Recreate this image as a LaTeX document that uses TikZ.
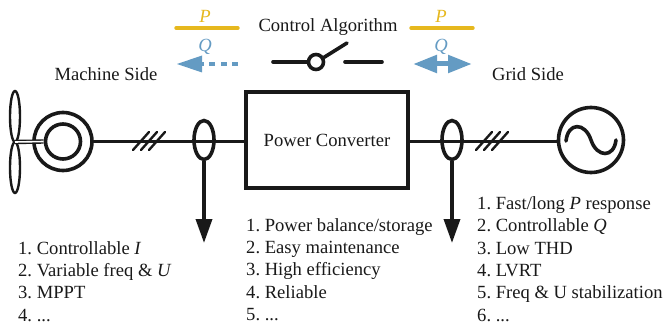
\documentclass[tikz,border=0pt]{standalone}
\usepackage{fontspec}
\setmainfont{Liberation Serif}
\usetikzlibrary{arrows.meta,shapes.geometric}
\definecolor{pcolor}{RGB}{230,184,30}
\definecolor{qcolor}{RGB}{100,155,195}

\begin{document}
\begin{tikzpicture}[x=1pt,y=-1pt,line cap=round,
    wire/.style={line width=3.6pt,black!90},
    label/.style={font=\fontsize{18.6}{22.3}\selectfont\frenchspacing,inner sep=0pt,text=black!90},
    list/.style={label,anchor=north west,align=left},
    pline/.style={line width=3.4pt,pcolor},
    qarrow/.style={qcolor,line cap=butt,>={Triangle[length=24pt,width=17pt]}},
    probe/.style={ellipse,draw,line width=3.6pt,black!90,minimum width=20pt,minimum height=39pt,inner sep=0pt},
    blade/.style={ellipse,draw,line width=2.4pt,black!90,minimum width=10pt,minimum height=51pt,inner sep=0pt},
    ring/.style={circle,draw,line width=3.6pt,black!90,inner sep=0pt}]
  \useasboundingbox (0,0) rectangle (665,329);
  % generator and turbine
  \node[blade] (bladetop) at (15,116.5) {};
  \node[blade] (bladebot) at (15,167.5) {};
  \coordinate (hub) at (15,142);
  \node[ring,minimum size=58pt] (machine) at (63,141.5) {};
  \node[ring,minimum size=35pt] (rotor) at (63,141.5) {};
  \draw[line width=4.4pt,black!90,line cap=butt] (hub) -- (rotor.west);
  \draw[line width=1.6pt,white,line cap=butt] (hub) -- (rotor.west);
  % converter and grid
  \node[draw,line width=3.6pt,black!90,minimum width=162pt,minimum height=96pt,inner sep=0pt,label] (conv) at (327,140) {Power Converter};
  \node[ring,minimum size=65pt] (grid) at (591,140) {};
  \coordinate (sinea) at (566,141); \coordinate (sineb) at (616,140);
  \draw[line width=3.6pt,black!90] (sinea) .. controls (568,122) and (585,122) .. (grid.center) .. controls (597,158) and (614,158) .. (sineb);
  \node[probe] (probeL) at (204,140) {};
  \node[probe] (probeR) at (452,140) {};
  \draw[wire] (machine.east) -- (machine.east -| conv.west);
  \draw[wire] (machine.east -| conv.east) -- (machine.east -| grid.west);
  % three-phase ticks
  \foreach \x in {141,149,157}{
    \draw[line width=2.4pt,black!90] (\x-8,150) -- (\x+8,132);
    \draw[line width=2.4pt,black!90] (\x+343-8,150) -- (\x+343+8,132);
  }
  % measurement arrows
  \coordinate (tipL) at (204,243);
  \coordinate (tipR) at (452,243);
  \draw[wire,line cap=butt,-{Triangle[length=24pt,width=16pt]}] (probeL.south) -- (tipL);
  \draw[wire,line cap=butt,-{Triangle[length=24pt,width=16pt]}] (probeR.south) -- (tipR);
  % P and Q
  \coordinate (pLa) at (176,28); \coordinate (pLb) at (238,28);
  \coordinate (pRa) at (411,28); \coordinate (pRb) at (473,28);
  \draw[pline] (pLa) -- (pLb);
  \draw[pline] (pRa) -- (pRb);
  \node[label,text=pcolor] (pL) at (205,16) {\textit{P}};
  \node[label,text=pcolor] (pR) at (441,16) {\textit{P}};
  \node[label,text=qcolor] (qL) at (205,47) {\textit{Q}};
  \node[label,text=qcolor] (qR) at (441,47) {\textit{Q}};
  \coordinate (qLa) at (238,64); \coordinate (qLb) at (177,64);
  \coordinate (qRa) at (413,64); \coordinate (qRb) at (472,64);
  \draw[qarrow,line width=4pt,dash pattern=on 6pt off 5.5pt] (qLa) -- (200,64);
  \draw[qarrow,line width=0pt,-{Triangle[length=25pt,width=17pt]}] (202,64) -- (qLb);
  \draw[qarrow,line width=5pt,{Triangle[length=24pt,width=17pt]}-{Triangle[length=24pt,width=17pt]}] (qRa) -- (qRb);
  % switch
  \node[circle,draw,line width=3.6pt,black!90,minimum size=15pt,inner sep=0pt] (sw) at (316,62) {};
  \coordinate (swa) at (273,62); \coordinate (swb) at (347,43);
  \coordinate (swc) at (345,62); \coordinate (swd) at (382,62);
  \draw[wire] (swa) -- (sw.west);
  \draw[wire] (sw.30) -- (swb);
  \draw[wire] (swc) -- (swd);
  % texts
  \node[label] (ctrl) at (328,27.5) {Control Algorithm};
  \node[label] (mside) at (106,74) {Machine Side};
  \node[label] (gside) at (528,74.5) {Grid Side};
  \node[list] (listL) at (18,241) {1. Controllable \textit{I}\\2. Variable freq \& \textit{U}\\3. MPPT\\4. ...};
  \node[list] (listM) at (246,218) {1. Power balance/storage\\2. Easy maintenance\\3. High efficiency\\4. Reliable\\5. ...};
  \node[list] (listR) at (477,196.5) {1. Fast/long \textit{P} response\\2. Controllable \textit{Q}\\3. Low THD\\4. LVRT\\5. Freq \& U stabilization\\6. ...};
\end{tikzpicture}
\end{document}
